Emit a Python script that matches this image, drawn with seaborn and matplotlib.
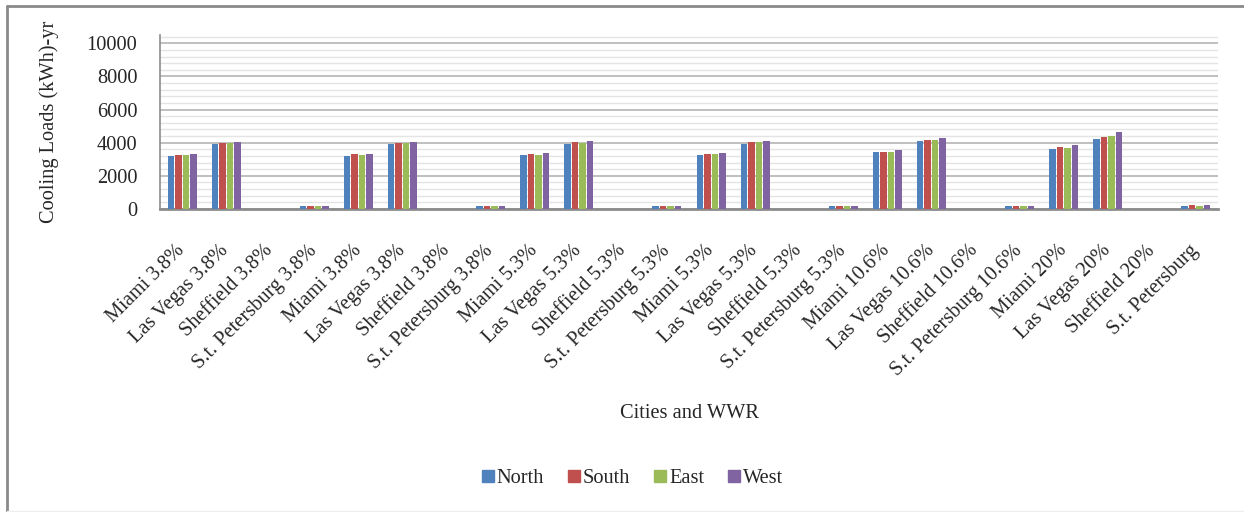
import matplotlib
matplotlib.use("Agg")
import matplotlib.pyplot as plt
from matplotlib.lines import Line2D
from matplotlib.ticker import MultipleLocator
import numpy as np
import pandas as pd
import seaborn as sns

# Category labels along the x axis (in plotted order)
categories = [
    "Miami 3.8%", "Las Vegas 3.8%", "Sheffield 3.8%", "S.t. Petersburg 3.8%",
    "Miami 3.8%", "Las Vegas 3.8%", "Sheffield 3.8%", "S.t. Petersburg 3.8%",
    "Miami 5.3%", "Las Vegas 5.3%", "Sheffield 5.3%", "S.t. Petersburg 5.3%",
    "Miami 5.3%", "Las Vegas 5.3%", "Sheffield 5.3%", "S.t. Petersburg 5.3%",
    "Miami 10.6%", "Las Vegas 10.6%", "Sheffield 10.6%", "S.t. Petersburg 10.6%",
    "Miami 20%", "Las Vegas 20%", "Sheffield 20%", "S.t. Petersburg",
]

# Annual cooling loads (kWh) per facade orientation
north = [3200, 3920, 0, 180, 3200, 3920, 0, 180,
         3260, 3920, 0, 180, 3260, 3920, 0, 180,
         3440, 4105, 0, 180, 3620, 4225, 0, 180]
south = [3260, 3980, 0, 180, 3320, 3980, 0, 180,
         3320, 4045, 0, 180, 3320, 4045, 0, 180,
         3440, 4165, 0, 180, 3740, 4345, 0, 240]
east = [3260, 3980, 0, 180, 3260, 3980, 0, 180,
        3260, 3980, 0, 180, 3320, 4045, 0, 180,
        3440, 4165, 0, 180, 3680, 4405, 0, 180]
west = [3320, 4045, 0, 180, 3320, 4045, 0, 180,
        3380, 4105, 0, 180, 3380, 4105, 0, 180,
        3560, 4285, 0, 180, 3865, 4650, 0, 240]

series_names = ["North", "South", "East", "West"]
series_colors = ["#4F81BD", "#C0504D", "#9BBB59", "#8064A2"]

rows = []
for name, vals in zip(series_names, [north, south, east, west]):
    for i, v in enumerate(vals):
        rows.append({"slot": i, "Orientation": name, "Load": v})
df = pd.DataFrame(rows)

sns.set_theme(style="white")
plt.rcParams["font.family"] = ["Liberation Serif", "DejaVu Serif"]
FS = 14.7

W, H = 1244, 512
fig = plt.figure(figsize=(W / 100, H / 100), dpi=100)
ax = fig.add_axes([160 / W, 1 - 209 / H, (1218 - 160) / W, (209 - 35) / H])

sns.barplot(data=df, x="slot", y="Load", hue="Orientation",
            hue_order=series_names, palette=series_colors,
            order=list(range(len(categories))),
            width=0.68, gap=0.14, saturation=1, errorbar=None,
            linewidth=0, legend=False, ax=ax, zorder=3)

ax.set_xlim(-0.5, len(categories) - 0.5)
ax.set_ylim(0, 10500)
ax.yaxis.set_major_locator(MultipleLocator(2000))
ax.yaxis.set_minor_locator(MultipleLocator(400))
ax.set_yticks(np.arange(0, 10001, 2000))
ax.grid(which="minor", axis="y", color="#E4E4E4", lw=1.0, zorder=0)
ax.grid(which="major", axis="y", color="#B4B4B4", lw=1.2, zorder=1)
ax.set_axisbelow(True)

for s in ["top", "right"]:
    ax.spines[s].set_visible(False)
ax.spines["left"].set_color("#8C8C8C")
ax.spines["left"].set_linewidth(1.2)
ax.spines["bottom"].set_color("#8C8C8C")
ax.spines["bottom"].set_linewidth(2.0)

ax.tick_params(axis="y", which="major", direction="out", length=4.3,
               width=1.2, color="#8C8C8C", labelsize=FS, pad=12)
ax.tick_params(axis="y", which="minor", length=0)
ax.tick_params(axis="x", length=0, labelsize=FS, pad=28)

ax.set_xticks(range(len(categories)))
ax.set_xticklabels(categories, rotation=45, ha="right",
                   rotation_mode="anchor", va="center")

ax.set_xlabel("")
ax.set_ylabel("Cooling Loads (kWh)-yr", fontsize=FS, labelpad=20)

fig.text(689 / W, 1 - 414 / H, "Cities and WWR", ha="center",
         va="center", fontsize=FS)

handles = [Line2D([], [], marker="s", linestyle="none", markersize=8,
                  markerfacecolor=c, markeredgecolor=c) for c in series_colors]
fig.legend(handles, series_names, loc="center", ncol=4,
           bbox_to_anchor=(631 / W, 1 - 478 / H), frameon=False,
           fontsize=FS, handletextpad=0.0, columnspacing=1.0,
           handlelength=0.9)

# Chart frame
fig.add_artist(Line2D([7 / W, 7 / W], [1 - 6 / H, 1 - 511 / H],
                      transform=fig.transFigure, color="#8A8A8A", lw=2))
fig.add_artist(Line2D([7 / W, 1.0], [1 - 6 / H, 1 - 6 / H],
                      transform=fig.transFigure, color="#8A8A8A", lw=2))
fig.add_artist(Line2D([7 / W, 1.0], [1 - 511 / H, 1 - 511 / H],
                      transform=fig.transFigure, color="#EEEEEE", lw=1))

fig.savefig("out.png", dpi=100, facecolor="white")
